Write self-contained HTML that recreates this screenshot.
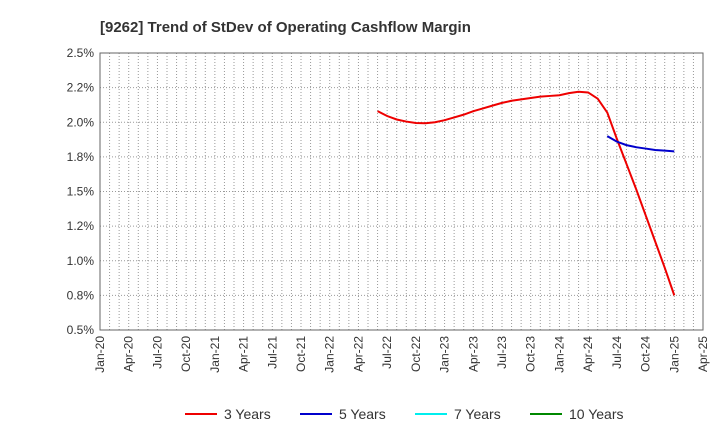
<!DOCTYPE html>
<html><head><meta charset="utf-8"><style>
body{margin:0;background:#fff;font-family:"Liberation Sans",sans-serif}
</style></head><body>
<svg id="c" width="720" height="440" xmlns="http://www.w3.org/2000/svg">
<text x="100" y="32" font-size="15" font-weight="bold" fill="#333">[9262]  Trend of StDev of Operating Cashflow Margin</text>
<g id="grid"></g><g id="axes"></g><g id="series"></g><g id="legend"></g>
</svg>
<script>
const yTicks=[0.5,0.75,1.0,1.25,1.5,1.75,2.0,2.25,2.5];
const yLabels=["0.5%","0.8%","1.0%","1.2%","1.5%","1.8%","2.0%","2.2%","2.5%"];
const xLabels=["Jan-20","Apr-20","Jul-20","Oct-20","Jan-21","Apr-21","Jul-21","Oct-21","Jan-22","Apr-22","Jul-22","Oct-22","Jan-23","Apr-23","Jul-23","Oct-23","Jan-24","Apr-24","Jul-24","Oct-24","Jan-25","Apr-25"];
const red3Start=29; // month index Jun-22
const red3=[2.08,2.045,2.02,2.005,1.995,1.993,2.0,2.015,2.035,2.055,2.08,2.10,2.12,2.14,2.155,2.165,2.175,2.185,2.19,2.195,2.21,2.22,2.215,2.17,2.07,1.88,1.70,1.52,1.33,1.14,0.95,0.75];
const blue5Start=53; // Jun-24
const blue5=[1.90,1.86,1.835,1.82,1.81,1.80,1.795,1.79];
const L=100,R=703,T=53,B=330,NM=63;
const X=m=>L+(R-L)*m/NM;
const Y=v=>B-(v-0.5)/2*(B-T);
const ns="http://www.w3.org/2000/svg";
function mk(p,t,a){const e=document.createElementNS(ns,t);for(const k in a)e.setAttribute(k,a[k]);document.getElementById(p).appendChild(e);return e;}
for(let m=0;m<=NM;m++){const l=mk("grid","line",{x1:X(m),x2:X(m),y1:T,y2:B,stroke:"#999","stroke-dasharray":"1,2","stroke-width":1});

}
yTicks.forEach((v,i)=>{const l=mk("grid","line",{x1:L,x2:R,y1:Y(v),y2:Y(v),stroke:"#999","stroke-dasharray":"1,2"});


const t=mk("axes","text",{x:L-6,y:Y(v)+4,"text-anchor":"end","font-size":12,fill:"#333"});t.textContent=yLabels[i];

});
xLabels.forEach((s,i)=>{const x=X(i*3);const t=mk("axes","text",{transform:`translate(${x+4},${B+6}) rotate(-90)`,"text-anchor":"end","font-size":12,fill:"#333"});t.textContent=s;

});
const fr=mk("axes","rect",{x:L,y:T,width:R-L,height:B-T,fill:"none",stroke:"#666"});


function line(d,s,c,n){const p=mk("series","polyline",{points:d.map((v,i)=>X(s+i)+","+Y(v)).join(" "),fill:"none",stroke:c,"stroke-width":2});

}
line(red3,red3Start,"#e00","line-3-years");
line(blue5,blue5Start,"#00c","line-5-years");
const leg=[["3 Years","#e00",185],["5 Years","#00c",300],["7 Years","#0ee",415],["10 Years","#080",530]];
leg.forEach(([n,c,x])=>{const l=mk("legend","line",{x1:x,x2:x+32,y1:414,y2:414,stroke:c,"stroke-width":2});


const t=mk("legend","text",{x:x+39,y:419,"font-size":14,fill:"#333"});t.textContent=n;

});
</script>
</body></html>
